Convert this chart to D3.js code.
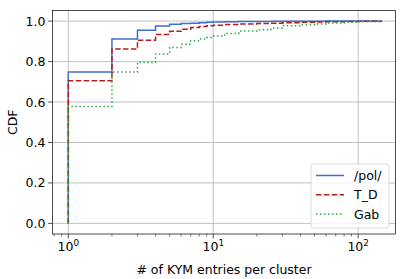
<!DOCTYPE html>
<html>
<head>
<meta charset="utf-8">
<script src="https://cdn.jsdelivr.net/npm/d3@7"></script>
<style>
  html, body { margin: 0; padding: 0; background: #fff; }
  svg { display: block; font-family: "DejaVu Sans", sans-serif; }
</style>
</head>
<body>
<div id="chart"></div>
<script>
// step positions (# of KYM entries) and CDF values per series
const steps = [1, 2, 3, 4, 5, 6, 7, 8, 9, 10, 12, 15, 20, 25, 30, 40, 50, 60, 80, 100, 145];
const polCdf = [0.749, 0.911, 0.955, 0.976, 0.984, 0.988, 0.990, 0.992, 0.994, 0.996, 0.997, 0.998, 0.998, 0.999, 0.999, 0.999, 0.999, 1.0, 1.0, 1.0, 1.0];
const tdCdf = [0.705, 0.862, 0.906, 0.934, 0.950, 0.960, 0.968, 0.973, 0.977, 0.980, 0.983, 0.986, 0.988, 0.990, 0.992, 0.994, 0.996, 0.997, 0.998, 0.999, 1.0];
const gabCdf = [0.578, 0.748, 0.796, 0.838, 0.870, 0.886, 0.903, 0.912, 0.919, 0.926, 0.939, 0.951, 0.957, 0.966, 0.977, 0.982, 0.986, 0.991, 0.994, 0.997, 1.0];
const yTicks = [0, 0.2, 0.4, 0.6, 0.8, 1.0];
const xMajor = [1, 10, 100];
const xMinor = [0.8, 0.9, 2, 3, 4, 5, 6, 7, 8, 9, 20, 30, 40, 50, 60, 70, 80, 90];

const series = [
  { name: "/pol/", values: polCdf, color: "#3a6fd2", dash: null },
  { name: "T_D", values: tdCdf, color: "#b81c1c", dash: "5.5,2.4" },
  { name: "Gab", values: gabCdf, color: "#2aae46", dash: "1.5,2.5" },
];

const width = 407, height = 279;
const plot = { left: 52.5, right: 395.5, top: 10.5, bottom: 234 };

const svg = d3.select("#chart").append("svg")
  .attr("width", width).attr("height", height);

const x = d3.scaleLog().domain([0.778, 181]).range([plot.left, plot.right]);
const y = d3.scaleLinear().domain([-0.0525, 1.0525]).range([plot.bottom, plot.top]);

// grid
const grid = svg.append("g").attr("stroke", "#b0b0b0").attr("stroke-width", 0.8);
grid.selectAll("line.gx").data(xMajor).enter().append("line")
  .attr("x1", d => x(d)).attr("x2", d => x(d))
  .attr("y1", plot.top).attr("y2", plot.bottom);
grid.selectAll("line.gy").data(yTicks).enter().append("line")
  .attr("x1", plot.left).attr("x2", plot.right)
  .attr("y1", d => y(d)).attr("y2", d => y(d));

// lines
svg.append("defs").append("clipPath").attr("id", "clip")
  .append("rect").attr("x", plot.left).attr("y", plot.top)
  .attr("width", plot.right - plot.left).attr("height", plot.bottom - plot.top);

const line = d3.line().x(d => x(d[0])).y(d => y(d[1])).curve(d3.curveStepAfter);

series.forEach(s => {
  const pts = [[steps[0], 0]].concat(steps.map((v, i) => [v, s.values[i]]));
  svg.append("path")
    .attr("clip-path", "url(#clip)")
    .attr("d", line(pts))
    .attr("fill", "none")
    .attr("stroke", s.color)
    .attr("stroke-width", 1.5)
    .attr("stroke-dasharray", s.dash);
});

// spines
svg.append("rect")
  .attr("x", plot.left).attr("y", plot.top)
  .attr("width", plot.right - plot.left).attr("height", plot.bottom - plot.top)
  .attr("fill", "none").attr("stroke", "#222").attr("stroke-width", 0.8);

// x ticks
const tk = svg.append("g").attr("stroke", "#222").attr("stroke-width", 0.8);
tk.selectAll("line.mj").data(xMajor).enter().append("line")
  .attr("x1", d => x(d)).attr("x2", d => x(d))
  .attr("y1", plot.bottom).attr("y2", plot.bottom + 4.4);
tk.selectAll("line.mn").data(xMinor).enter().append("line")
  .attr("x1", d => x(d)).attr("x2", d => x(d))
  .attr("y1", plot.bottom).attr("y2", plot.bottom + 2.5)
  .attr("stroke-width", 0.6);
tk.selectAll("line.yt").data(yTicks).enter().append("line")
  .attr("x1", plot.left - 4.4).attr("x2", plot.left)
  .attr("y1", d => y(d)).attr("y2", d => y(d));

const xl = svg.selectAll("text.xt").data(xMajor).enter().append("text")
  .attr("x", d => x(d)).attr("y", 251)
  .attr("text-anchor", "middle")
  .style("font-size", "12.5px").attr("fill", "#000");
xl.append("tspan").text("10");
xl.append("tspan").attr("dy", -5).style("font-size", "8.8px")
  .text(d => String(Math.round(Math.log10(d))));

svg.selectAll("text.yt").data(yTicks).enter().append("text")
  .attr("x", plot.left - 7).attr("y", d => y(d) + 4.5)
  .attr("text-anchor", "end")
  .style("font-size", "12.5px")
  .text(d => d.toFixed(1));

// axis labels
svg.append("text")
  .attr("x", (plot.left + plot.right) / 2).attr("y", 274)
  .attr("text-anchor", "middle").style("font-size", "12.5px")
  .text("# of KYM entries per cluster");
svg.append("text")
  .attr("transform", `translate(17,${(plot.top + plot.bottom) / 2}) rotate(-90)`)
  .attr("text-anchor", "middle").style("font-size", "12.5px")
  .text("CDF");

// legend
const lg = svg.append("g").attr("transform", "translate(311,164)");
lg.append("rect").attr("width", 78).attr("height", 64).attr("rx", 2.5)
  .attr("fill", "#fff").attr("fill-opacity", 0.8)
  .attr("stroke", "#d0d0d0").attr("stroke-width", 0.8);
series.forEach((s, i) => {
  const yy = 11.5 + i * 19.3;
  lg.append("line").attr("x1", 5).attr("x2", 33).attr("y1", yy).attr("y2", yy)
    .attr("stroke", s.color).attr("stroke-width", 1.5)
    .attr("stroke-dasharray", s.dash);
  lg.append("text").attr("x", 43).attr("y", yy + 4.5)
    .style("font-size", "12.5px").text(s.name);
});
</script>
</body>
</html>
